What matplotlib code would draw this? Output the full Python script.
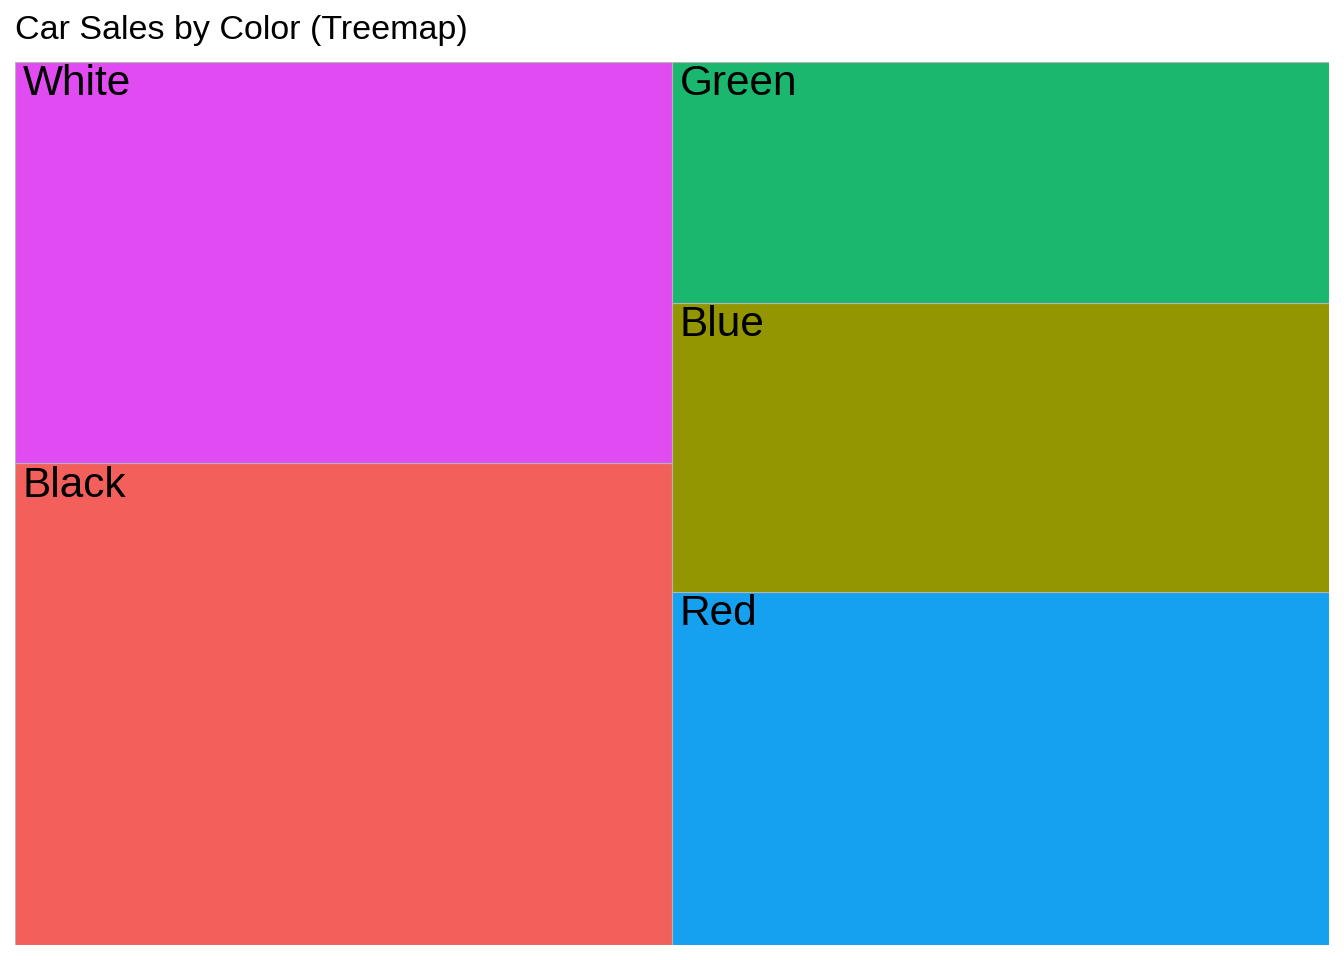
import matplotlib
matplotlib.use("Agg")
import matplotlib.pyplot as plt
from matplotlib.patches import Rectangle

plt.rcParams['font.family'] = ['Liberation Sans', 'DejaVu Sans']

colors = ['Black', 'White', 'Red', 'Blue', 'Green']
sales = [30, 25, 22, 18, 15]
fills = {'Black': '#F35F5B', 'Blue': '#939600', 'Green': '#1BB76E',
         'Red': '#15A0F0', 'White': '#E04CF2'}


def worst(row, side):
    s = sum(row)
    return max(max(side * side * r / (s * s), s * s / (side * side * r)) for r in row)


def squarify(areas, x, y, w, h):
    '''squarified layout in the rectangle (x, y, w, h); rows start bottom-left'''
    rects = []
    areas = list(areas)
    while areas:
        side = min(w, h)
        row = [areas.pop(0)]
        while areas and worst(row + [areas[0]], side) <= worst(row, side):
            row.append(areas.pop(0))
        s = sum(row)
        if w >= h:
            # column on the left, stacked bottom-up
            cw = s / h
            yy = y
            for a in row:
                rects.append((x, yy, cw, a / cw))
                yy += a / cw
            x += cw
            w -= cw
        else:
            # row along the bottom, left to right
            rh = s / w
            xx = x
            for a in row:
                rects.append((xx, y, a / rh, rh))
                xx += a / rh
            y += rh
            h -= rh
    return rects


total = sum(sales)
rects = squarify([v / total for v in sales], 0, 0, 1, 1)

fig = plt.figure(figsize=(13.44, 9.6), dpi=100)
ax = fig.add_axes([15 / 1344, 15 / 960, 1314 / 1344, 883 / 960])
for name, (x, y, w, h) in zip(colors, rects):
    ax.add_patch(Rectangle((x, y), w, h, facecolor=fills[name],
                           edgecolor='#b5b5b5', linewidth=0.8))
    ax.annotate(name, (x, y + h), xytext=(5.5, -24), textcoords='offset points',
                ha='left', va='baseline', fontsize=30.5, color='black')
ax.set_xlim(0, 1)
ax.set_ylim(0, 1)
ax.axis('off')

fig.text(15 / 1344, 1 - 39 / 960, 'Car Sales by Color (Treemap)',
         ha='left', va='baseline', fontsize=24.5)

fig.savefig('out.png', dpi=100)
